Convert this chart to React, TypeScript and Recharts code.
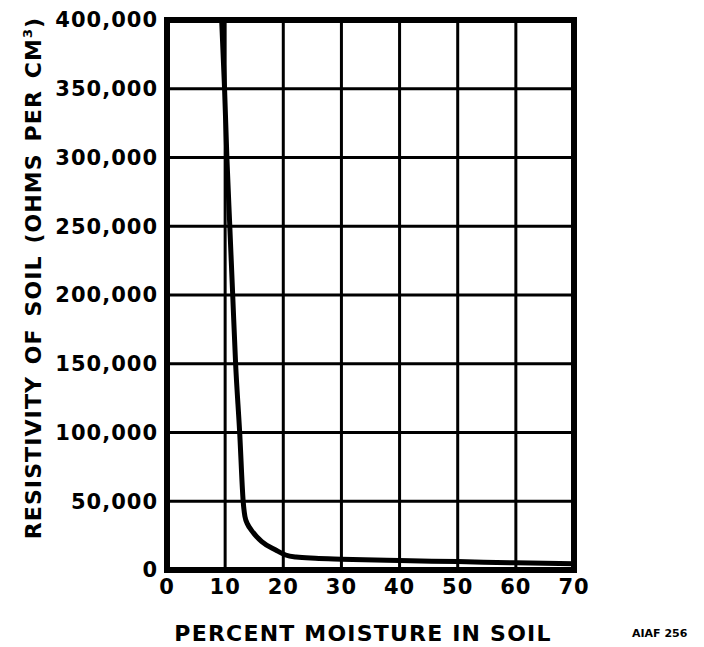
import { CartesianGrid, Label, Line, LineChart, ReferenceArea, XAxis, YAxis } from "recharts";

// percent moisture in soil vs resistivity (ohms per cm3)
const moisture = [9.4, 9.9, 10.3, 10.8, 11.3, 11.8, 12.5, 13.1, 13.4, 13.9, 14.5, 16.3, 18.7, 20.4, 22.2, 25.5, 30, 40, 50, 60, 70];
const resistivity = [400000, 350000, 300000, 250000, 200000, 150000, 100000, 50000, 39000, 33000, 29000, 20600, 14500, 10900, 9400, 8500, 7900, 6900, 6100, 5200, 4500];

const xTicks = [0, 10, 20, 30, 40, 50, 60, 70];
const yTicks = [0, 50000, 100000, 150000, 200000, 250000, 300000, 350000, 400000];

const xTitle = "PERCENT MOISTURE IN SOIL";
const yTitle = "RESISTIVITY OF SOIL (OHMS PER CM";
const plateNote = "AIAF 256";

const FONT = "'DejaVu Sans', sans-serif";

const data = moisture.map((m, i) => ({ m, r: resistivity[i] }));

const tickStyle = { fontSize: 21, fontWeight: 700, fill: "#000", fontFamily: FONT, letterSpacing: 1 };

export default function App() {
	return (
		<div style={{ position: "absolute", top: 0, left: 0, width: 704, height: 647, background: "#fff" }}>
			<LineChart
				width={704}
				height={647}
				data={data}
				margin={{ top: 20, right: 130, bottom: 0, left: 0 }}
			>
				<CartesianGrid stroke="#000" strokeWidth={3} />
				<XAxis
					dataKey="m"
					type="number"
					domain={[0, 70]}
					ticks={xTicks}
					height={77}
					axisLine={false}
					tickLine={false}
					tickSize={0}
					tickMargin={9}
					tick={tickStyle}
					interval={0}
				>
					<Label
						content={() => (
							<text
								x={363}
								y={641}
								textAnchor="middle"
								fontFamily={FONT}
								fontWeight={700}
								fontSize={22}
								letterSpacing={1.2}
								fill="#000"
							>
								{xTitle}
							</text>
						)}
					/>
				</XAxis>
				<YAxis
					dataKey="r"
					type="number"
					domain={[0, 400000]}
					ticks={yTicks}
					width={167}
					axisLine={false}
					tickLine={false}
					tickSize={0}
					tickMargin={9}
					tick={tickStyle}
					interval={0}
					tickFormatter={(v: number) => v.toLocaleString("en-US")}
				>
					<Label
						content={() => (
							<text
								x={0}
								y={0}
								transform="translate(41 278) rotate(-90)"
								textAnchor="middle"
								fontFamily={FONT}
								fontWeight={700}
								fontSize={22}
								letterSpacing={1.1}
								wordSpacing={3}
								fill="#000"
							>
								{yTitle}
								<tspan fontSize={13} dy={-9}>3</tspan>
								<tspan dy={9}>)</tspan>
							</text>
						)}
					/>
				</YAxis>
				<ReferenceArea
					x1={0}
					x2={70}
					y1={0}
					y2={400000}
					fill="none"
					stroke="#000"
					strokeWidth={6}
					ifOverflow="visible"
				/>
				<Line
					dataKey="r"
					type="monotoneX"
					stroke="#000"
					strokeWidth={5}
					dot={false}
					isAnimationActive={false}
				/>
			</LineChart>
			<div
				style={{
					position: "absolute",
					left: 632,
					top: 627,
					fontFamily: FONT,
					fontWeight: 700,
					fontSize: 11,
					color: "#000",
				}}
			>
				{plateNote}
			</div>
		</div>
	);
}
